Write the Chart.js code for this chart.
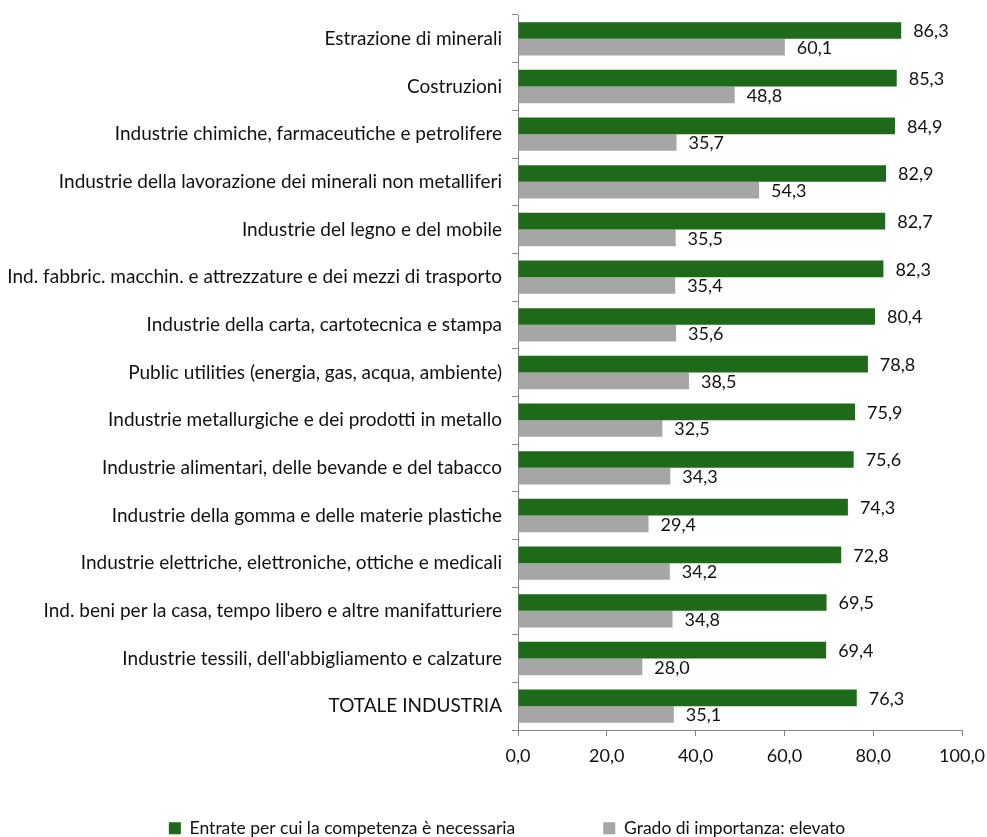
<!DOCTYPE html>
<html>
<head>
<meta charset="utf-8">
<script src="https://cdn.jsdelivr.net/npm/chart.js@4"></script>
<style>
  body { margin: 0; background: #fff; }
</style>
</head>
<body>
<canvas id="myChart" width="987" height="837"></canvas>
<script>
var categories = [
  "Estrazione di minerali",
  "Costruzioni",
  "Industrie chimiche, farmaceutiche e petrolifere",
  "Industrie della lavorazione dei minerali non metalliferi",
  "Industrie del legno e del mobile",
  "Ind. fabbric. macchin. e attrezzature e dei mezzi di trasporto",
  "Industrie della carta, cartotecnica e stampa",
  "Public utilities (energia, gas, acqua, ambiente)",
  "Industrie metallurgiche e dei prodotti in metallo",
  "Industrie alimentari, delle bevande e del tabacco",
  "Industrie della gomma e delle materie plastiche",
  "Industrie elettriche, elettroniche, ottiche e medicali",
  "Ind. beni per la casa, tempo libero e altre manifatturiere",
  "Industrie tessili, dell'abbigliamento e calzature",
  "TOTALE INDUSTRIA"
];
var necessaria = [86.3, 85.3, 84.9, 82.9, 82.7, 82.3, 80.4, 78.8, 75.9, 75.6, 74.3, 72.8, 69.5, 69.4, 76.3];
var elevato = [60.1, 48.8, 35.7, 54.3, 35.5, 35.4, 35.6, 38.5, 32.5, 34.3, 29.4, 34.2, 34.8, 28.0, 35.1];
var seriesNames = ["Entrate per cui la competenza è necessaria", "Grado di importanza: elevato"];
var xTicks = [0, 20, 40, 60, 80, 100];

var fontFamily = "Lato, 'Open Sans', sans-serif";
var textColor = "#111";
var axisColor = "#868686";
var legendGap = 88;

function fmt(v) {
  return v.toFixed(1).replace(".", ",");
}

// writes each value just past the end of its bar
var valueLabels = {
  id: "valueLabels",
  afterDatasetsDraw: function(chart) {
    var ctx = chart.ctx;
    ctx.save();
    ctx.font = "18px " + fontFamily;
    ctx.fillStyle = textColor;
    ctx.textAlign = "left";
    ctx.textBaseline = "middle";
    chart.data.datasets.forEach(function(ds, i) {
      chart.getDatasetMeta(i).data.forEach(function(bar, j) {
        ctx.fillText(fmt(ds.data[j]), bar.x + 12, bar.y + 1);
      });
    });
    ctx.restore();
  }
};

// the x axis box is kept tiny (the legend gap eats the room): let its labels draw below it,
// and nudge the legend a bit to the right
var layoutTweaks = {
  id: "layoutTweaks",
  afterLayout: function(chart) {
    chart.scales.x.bottom = chart.height;
    chart.legend.left += 26;
    chart.legend.right += 26;
  }
};

new Chart("myChart", {
  type: "bar",
  data: {
    labels: categories,
    datasets: [{
      label: seriesNames[0],
      data: necessaria,
      backgroundColor: "#1E6A1A",
      categoryPercentage: 0.7,
      barPercentage: 1.0
    }, {
      label: seriesNames[1],
      data: elevato,
      backgroundColor: "#A6A6A6",
      categoryPercentage: 0.7,
      barPercentage: 1.0
    }]
  },
  plugins: [valueLabels, layoutTweaks],
  options: {
    indexAxis: "y",
    responsive: false,
    animation: false,
    layout: {
      padding: { top: 15, left: 0, right: 25, bottom: -10 }
    },
    scales: {
      x: {
        min: 0,
        max: 100,
        afterBuildTicks: function(axis) {
          axis.ticks = xTicks.map(function(v) { return { value: v }; });
        },
        afterFit: function(axis) {
          axis.height = 89.5 - legendGap;
          axis.paddingLeft = 0;
          axis.paddingRight = 0;
        },
        ticks: {
          color: textColor,
          font: { size: 18, family: fontFamily },
          padding: 9,
          maxRotation: 0,
          callback: function(v) { return fmt(v); }
        },
        grid: { drawOnChartArea: false, color: axisColor, tickLength: 6 },
        border: { color: axisColor }
      },
      y: {
        afterFit: function(axis) {
          axis.width = 518;
          axis.paddingTop = 0;
          axis.paddingBottom = 0;
        },
        ticks: {
          color: textColor,
          font: { size: 19, family: fontFamily },
          padding: 10,
          autoSkip: false
        },
        grid: { drawOnChartArea: false, color: axisColor, tickLength: 6, offset: true },
        border: { color: axisColor }
      }
    },
    plugins: {
      legend: {
        position: "bottom",
        labels: {
          boxWidth: 12,
          boxHeight: 12,
          padding: legendGap,
          color: textColor,
          font: { size: 17.5, family: fontFamily }
        }
      },
      tooltip: { enabled: false }
    }
  }
});
</script>
</body>
</html>
